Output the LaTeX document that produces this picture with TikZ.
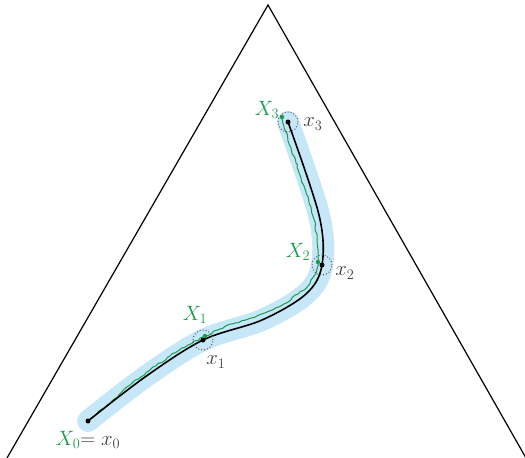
\documentclass[tikz,border=0pt]{standalone}
\usepackage{amsmath,amssymb}
\usepackage{xcolor}
\usetikzlibrary{decorations.pathmorphing}
\definecolor{bandblue}{RGB}{198,231,248}
\definecolor{pathgreen}{RGB}{25,155,75}
\tikzset{
  band/.style={line width=22pt, draw=bandblue, line cap=round, line join=round},
  truth/.style={draw=black, line width=1.6pt, line cap=round},
  noisy/.style={draw=pathgreen, line width=1pt, line join=round, decorate, decoration={random steps, segment length=3.5pt, amplitude=0.9pt}},
  ring/.style={draw=black!65, dotted, line width=1pt, circle, minimum size=20pt, inner sep=0pt},
  kdot/.style={fill=black, circle, inner sep=0pt, minimum size=5pt},
  gdot/.style={fill=pathgreen, circle, inner sep=0pt, minimum size=4.5pt},
  lbl/.style={font=\fontsize{21}{24}\selectfont, inner sep=1pt},
  glbl/.style={lbl, text=pathgreen},
  klbl/.style={lbl, text=black!75}}

\begin{document}
\begin{tikzpicture}[x=1pt, y=-1pt]
  \useasboundingbox (0,0) rectangle (525,458);
  % simplex
  \coordinate (apex) at (268,5);
  \coordinate (bl) at (7,458);
  \coordinate (br) at (526,458);
  % true path x_t
  \coordinate (x0) at (88,421);
  \coordinate (x1) at (203,340);
  \coordinate (x2) at (322,265);
  \coordinate (x3) at (288,122);
  % observed path X_t
  \coordinate (X1) at (205,336);
  \coordinate (X2) at (318,262);
  \coordinate (X3) at (282,117);

  \draw[band] plot[smooth, tension=0.55] coordinates {(x0) (145,377) (x1) (262,320) (306,294) (x2) (319,215) (x3)};
  \pgfmathsetseed{7}
  \draw[noisy] (x0) -- (109,404) -- (130,385) -- (150,370) -- (170,356) -- (188,345) -- (X1) -- (220,329) -- (235,323) -- (251,318) -- (267,312) -- (284,304) -- (298,294) -- (308,286) -- (314,276) -- (317,269) -- (X2) -- (318,250) -- (317,238) -- (315,222) -- (311,207) -- (306,192) -- (301,178) -- (296,163) -- (291,148) -- (286,132) -- (X3);
  \draw[truth] plot[smooth, tension=0.55] coordinates {(x0) (145,377) (x1) (262,320) (306,294) (x2) (319,215) (x3)};

  \foreach \i in {1,2,3} {
    \node[ring] (r\i) at (x\i) {};
    \node[gdot] (g\i) at (X\i) {};
    \node[kdot] (k\i) at (x\i) {};
  }
  \node[kdot] (k0) at (x0) {};

  \node[glbl] (L1) at (195,315) {$X_1$};
  \node[klbl] (l1) at (216,362) {$x_1$};
  \node[glbl] (L2) at (298,252) {$X_2$};
  \node[klbl] (l2) at (345,273) {$x_2$};
  \node[glbl] (L3) at (267,110) {$X_3$};
  \node[klbl] (l3) at (313,124) {$x_3$};
  \node[klbl] (l0) at (88,440) {$\textcolor{pathgreen}{X_0}{=}\;x_0$};

  \draw[line width=1.2pt] (bl) -- (apex) -- (br);
\end{tikzpicture}
\end{document}
